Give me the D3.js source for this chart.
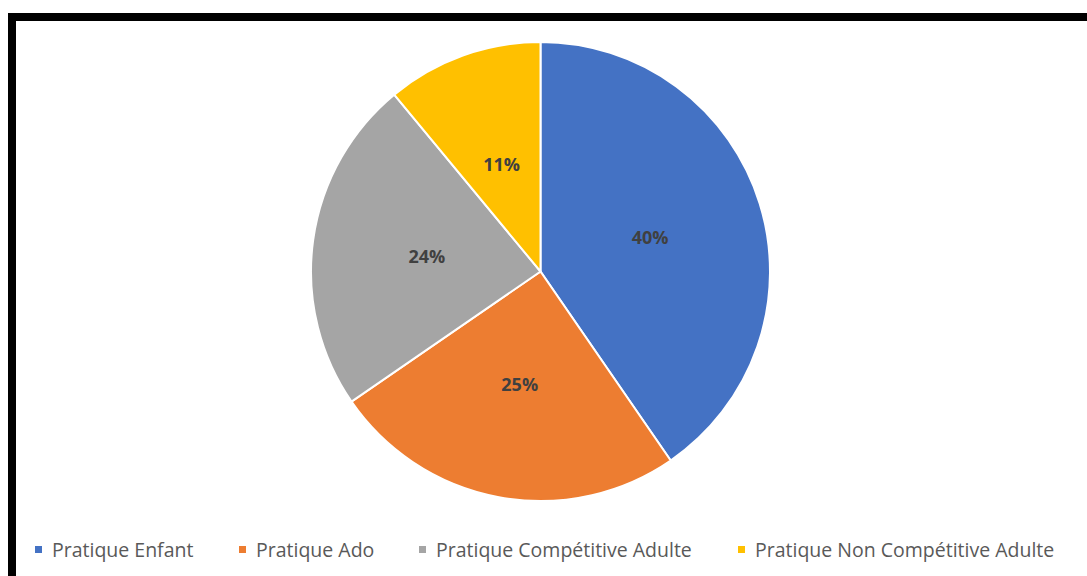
<!DOCTYPE html>
<html>
<head>
<meta charset="utf-8">
<script src="https://cdn.jsdelivr.net/npm/d3@7"></script>
<style>
  body { margin: 0; background: #fff; }
  svg { display: block; }
  .slice-label { font-family: "Open Sans", sans-serif; font-weight: bold; font-size: 18px; fill: #404040; }
  .legend-text { font-family: "Open Sans", sans-serif; font-size: 19.5px; fill: #595959; }
</style>
</head>
<body>
<script>
'use strict';

// chart data (shares in percent, labels show rounded values)
let categories = ["Pratique Enfant", "Pratique Ado", "Pratique Compétitive Adulte", "Pratique Non Compétitive Adulte"];
let shares = [40.4, 25.0, 23.6, 11.0];
let sliceColors = ["#4472c4", "#ed7d31", "#a5a5a5", "#ffc000"];

(function() {
  let width = 1087;
  let height = 576;

  let svg = d3.select('body')
    .append('svg')
      .attr('width', width)
      .attr('height', height);

  // black frame along top and left edges
  svg.append('rect')
    .attr('x', 8).attr('y', 13)
    .attr('width', width - 8).attr('height', 8)
    .attr('fill', '#000');
  svg.append('rect')
    .attr('x', 8).attr('y', 13)
    .attr('width', 8).attr('height', height - 13)
    .attr('fill', '#000');

  let cx = 540.5;
  let cy = 271.5;
  let radius = 229.5;

  let pie = d3.pie()
    .sort(null)
    .value((d) => d);

  let arc = d3.arc()
    .innerRadius(0)
    .outerRadius(radius);

  let arcs = pie(shares);

  let g = svg.append('g')
    .attr('transform', 'translate(' + cx + ',' + cy + ')');

  g.selectAll('path.slice')
    .data(arcs)
    .enter()
    .append('path')
      .attr('class', 'slice')
      .attr('d', arc)
      .attr('fill', (d, i) => sliceColors[i])
      .attr('stroke', '#fff')
      .attr('stroke-width', 2);

  g.selectAll('text.slice-label')
    .data(arcs)
    .enter()
    .append('text')
      .attr('class', 'slice-label')
      .attr('x', (d) => arc.centroid(d)[0])
      .attr('y', (d) => arc.centroid(d)[1])
      .attr('text-anchor', 'middle')
      .attr('dominant-baseline', 'central')
      .text((d) => Math.round(d.data) + '%');

  // legend
  let legendX = [35, 239, 419, 738];
  let legendY = 549.5;

  let legend = svg.selectAll('g.legend-item')
    .data(categories)
    .enter()
    .append('g')
      .attr('class', 'legend-item')
      .attr('transform', (d, i) => 'translate(' + legendX[i] + ',' + legendY + ')');

  legend.append('rect')
    .attr('x', 0).attr('y', -3.5)
    .attr('width', 7).attr('height', 7)
    .attr('fill', (d, i) => sliceColors[i]);

  legend.append('text')
    .attr('class', 'legend-text')
    .attr('x', 17)
    .attr('y', 0)
    .attr('dominant-baseline', 'central')
    .text((d) => d);
})();
</script>
</body>
</html>
